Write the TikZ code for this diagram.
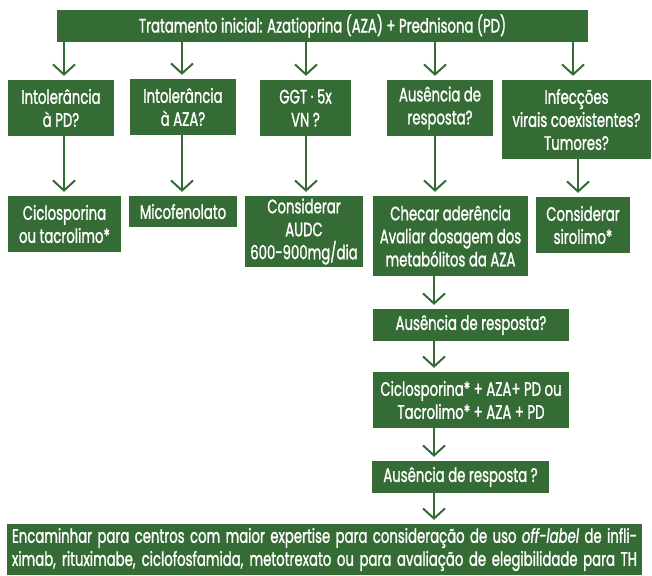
\documentclass[tikz,border=0pt]{standalone}
\usepackage{fontspec}
\setmainfont{Poppins}[FakeStretch=0.68,FakeBold=1.2]
\usetikzlibrary{arrows.meta}
\definecolor{dgreen}{RGB}{53,107,52}
\tikzset{
  box/.style={fill=dgreen, text=white, align=center, inner sep=0pt,
    font=\fontsize{19.5}{23}\selectfont},
  arr/.style={draw=dgreen, line width=2pt, -{Straight Barb[length=10pt,width=22pt,line width=2pt]}, shorten >=4pt}
}
\begin{document}
\begin{tikzpicture}[x=1pt,y=-1pt]
\useasboundingbox (0,0) rectangle (652,575);
% top
\node[box, minimum width=531pt, minimum height=32pt] (top) at (322.5,26) {Tratamento inicial: Azatioprina (AZA) + Prednisona (PD)};
% row 1
\node[box, minimum width=106pt, minimum height=56pt] (b1) at (61,108) {Intolerância\\à PD?};
\node[box, minimum width=106pt, minimum height=56pt] (b2) at (183,107) {Intolerância\\à AZA?};
\node[box, minimum width=91pt, minimum height=56pt] (b3) at (305.5,108) {GGT · 5x\\VN ?};
\node[box, minimum width=106pt, minimum height=56pt] (b4) at (440,108) {Ausência de\\resposta?};
\node[box, minimum width=149pt, minimum height=79pt] (b5) at (576.5,119.5) {Infecções\\virais coexistentes?\\Tumores?};
% row 2
\node[box, minimum width=113pt, minimum height=56pt] (c1) at (64.5,224) {Ciclosporina\\ou tacrolimo*};
\node[box, minimum width=108pt, minimum height=31pt] (c2) at (183,211.5) {Micofenolato};
\node[box, minimum width=118pt, minimum height=71pt] (c3) at (304,231.5) {Considerar\\AUDC\\600-900mg/dia};
\node[box, minimum width=155pt, minimum height=80pt] (c4) at (450.5,236) {Checar aderência\\Avaliar dosagem dos\\metabólitos da AZA};
\node[box, minimum width=94pt, minimum height=56pt] (c5) at (583,225) {Considerar\\sirolimo*};
% chain
\node[box, minimum width=196pt, minimum height=32pt] (d1) at (471,325) {Ausência de resposta?};
\node[box, minimum width=196pt, minimum height=56pt] (d2) at (471,400) {Ciclosporina* + AZA+ PD ou\\Tacrolimo* + AZA + PD};
\node[box, minimum width=177pt, minimum height=32pt] (d3) at (460.5,477) {Ausência de resposta ?};
\node[box, minimum width=635pt, minimum height=51pt] (e) at (324.5,549.5) {\makebox[625pt][s]{Encaminhar para centros com maior expertise para consideração de uso \textit{off-label} de infli-}\\\makebox[625pt][s]{ximab, rituximabe, ciclofosfamida, metotrexato ou para avaliação de elegibilidade para TH}};
% arrows from top
\draw[arr] (64,0 |- top.south) -- (64,0 |- b1.north);
\draw[arr] (182,0 |- top.south) -- (182,0 |- b2.north);
\draw[arr] (306,0 |- top.south) -- (306,0 |- b3.north);
\draw[arr] (435,0 |- top.south) -- (435,0 |- b4.north);
\draw[arr] (573,0 |- top.south) -- (573,0 |- b5.north);
% row1 to row2
\draw[arr] (64,0 |- b1.south) -- (64,0 |- c1.north);
\draw[arr] (182,0 |- b2.south) -- (182,0 |- c2.north);
\draw[arr] (306,0 |- b3.south) -- (306,0 |- c3.north);
\draw[arr] (435,0 |- b4.south) -- (435,0 |- c4.north);
\draw[arr] (578,0 |- b5.south) -- (578,0 |- c5.north);
% chain
\draw[arr] (434,0 |- c4.south) -- (434,0 |- d1.north);
\draw[arr] (434,0 |- d1.south) -- (434,0 |- d2.north);
\draw[arr] (434,0 |- d2.south) -- (434,0 |- d3.north);
\draw[arr] (434,0 |- d3.south) -- (434,0 |- e.north);
\end{tikzpicture}
\end{document}
